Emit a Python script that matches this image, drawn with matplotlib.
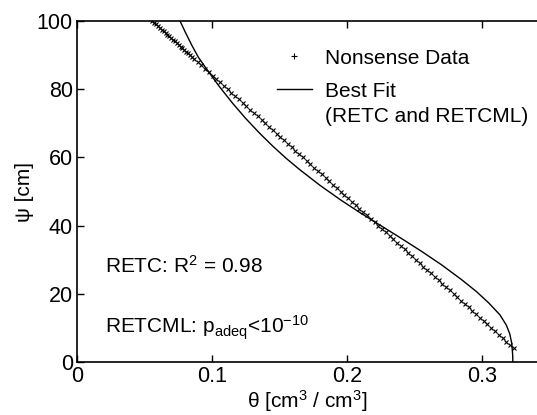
import matplotlib
matplotlib.use('Agg')
import matplotlib.pyplot as plt
from matplotlib.lines import Line2D

plt.rcParams['font.family'] = ['Liberation Sans', 'DejaVu Sans']
plt.rcParams['mathtext.fontset'] = 'custom'
plt.rcParams['mathtext.rm'] = 'Liberation Sans'
plt.rcParams['mathtext.it'] = 'Liberation Sans'
plt.rcParams['mathtext.default'] = 'regular'

# nonsense data (theta, psi)
psi_data = [100, 99.5, 99, 98.5, 98, 97.5, 97, 96.5, 96, 95.5, 95, 94.5, 94, 93.5,
            93, 92.5, 92, 91.5, 91, 90.5, 90, 89.5, 89, 88, 87, 86, 85, 84, 83, 82,
            81, 80, 79, 78, 77, 76, 75, 74, 73, 72, 71, 70, 69, 68, 67, 66, 65, 64,
            63, 62, 61, 60, 59, 58, 57, 56, 55, 54, 53, 52, 51, 50, 49, 48, 47, 46,
            45, 44, 43, 42, 41, 40, 39, 38, 37, 36, 35, 34, 33, 32, 31, 30, 29, 28,
            27, 26, 25, 24, 23, 22, 21, 20, 19, 18, 17, 16, 15, 14, 13, 12, 11, 10,
            9, 8, 7, 6, 5, 4]
theta_data = [0.0558, 0.0572, 0.0586, 0.0600, 0.0614, 0.0628, 0.0642, 0.0656, 0.0670,
              0.0684, 0.0698, 0.0711, 0.0725, 0.0739, 0.0753, 0.0767, 0.0781, 0.0795,
              0.0809, 0.0823, 0.0837, 0.0851, 0.0865, 0.0893, 0.0921, 0.0948, 0.0976,
              0.1004, 0.1032, 0.1060, 0.1088, 0.1116, 0.1144, 0.1172, 0.1199, 0.1227,
              0.1255, 0.1283, 0.1311, 0.1339, 0.1367, 0.1395, 0.1423, 0.1450, 0.1478,
              0.1506, 0.1534, 0.1562, 0.1590, 0.1618, 0.1646, 0.1674, 0.1702, 0.1729,
              0.1757, 0.1785, 0.1813, 0.1841, 0.1869, 0.1897, 0.1925, 0.1953, 0.1980,
              0.2008, 0.2036, 0.2064, 0.2092, 0.2120, 0.2148, 0.2176, 0.2204, 0.2231,
              0.2259, 0.2287, 0.2315, 0.2343, 0.2371, 0.2399, 0.2427, 0.2455, 0.2482,
              0.2510, 0.2538, 0.2566, 0.2594, 0.2622, 0.2650, 0.2678, 0.2706, 0.2733,
              0.2761, 0.2789, 0.2817, 0.2845, 0.2873, 0.2901, 0.2929, 0.2957, 0.2984,
              0.3012, 0.3040, 0.3068, 0.3096, 0.3124, 0.3152, 0.3180, 0.3208, 0.3236]

# best fit curve (RETC and RETCML)
theta_fit = [0.0763, 0.080, 0.085, 0.090, 0.096, 0.105, 0.115, 0.125, 0.135, 0.145,
             0.155, 0.165, 0.180, 0.195, 0.210, 0.225, 0.240, 0.255, 0.270, 0.285,
             0.296, 0.305, 0.3133, 0.318, 0.3205, 0.322, 0.3227, 0.3228]
psi_fit = [100, 96.9, 92.9, 89.3, 85.9, 81.0, 76.0, 71.4, 67.2, 63.3,
           59.7, 56.4, 51.8, 47.6, 43.7, 40.0, 36.3, 32.5, 28.5, 24.1,
           20.6, 17.3, 13.8, 10.8, 8.3, 5.5, 2.0, 0]

fig = plt.figure(figsize=(5.37, 4.15), dpi=100)
ax = fig.add_axes([0.1434, 0.1277, 0.8566, 0.8217])

ax.plot(theta_data, psi_data, 'x', color='k', ms=3.3, mew=0.8)
ax.plot(theta_fit, psi_fit, '-', color='k', lw=1.0)

ax.set_xlim(0, 0.3407)
ax.set_ylim(0, 100)
ax.set_xticks([0, 0.1, 0.2, 0.3])
ax.set_xticklabels(['0', '0.1', '0.2', '0.3'])
ax.set_yticks([0, 20, 40, 60, 80, 100])
ax.tick_params(direction='in', labelsize=15.5, length=5, width=1, top=True, pad=3)
ax.spines['right'].set_visible(False)
for s in ['left', 'bottom', 'top']:
    ax.spines[s].set_linewidth(1.2)

ax.set_xlabel(r'θ [cm$^3$ / cm$^3$]', fontsize=15, labelpad=1)
ax.set_ylabel('ψ [cm]', fontsize=15, labelpad=2)

leg1 = ax.legend([Line2D([], [], ls='none', marker='+', color='k', ms=4, mew=0.8)],
                 ['Nonsense Data'], loc='upper left', bbox_to_anchor=(0.3935, 0.9736),
                 frameon=False, fontsize=15, handlelength=1.7, handletextpad=0.62)
ax.add_artist(leg1)
ax.legend([Line2D([], [], color='k', lw=1.0), Line2D([], [], ls='none')],
          ['Best Fit', '(RETC and RETCML)'], loc='upper left',
          bbox_to_anchor=(0.3935, 0.877), frameon=False, fontsize=15,
          handlelength=1.7, handletextpad=0.62, labelspacing=0.3)

ax.text(0.06, 0.261, r'RETC: R$^2$ = 0.98', transform=ax.transAxes, fontsize=15,
        va='baseline')
ax.text(0.06, 0.085, r'RETCML: p$_{adeq}$<10$^{-10}$', transform=ax.transAxes,
        fontsize=15, va='baseline')

fig.savefig('out.png', dpi=100)
